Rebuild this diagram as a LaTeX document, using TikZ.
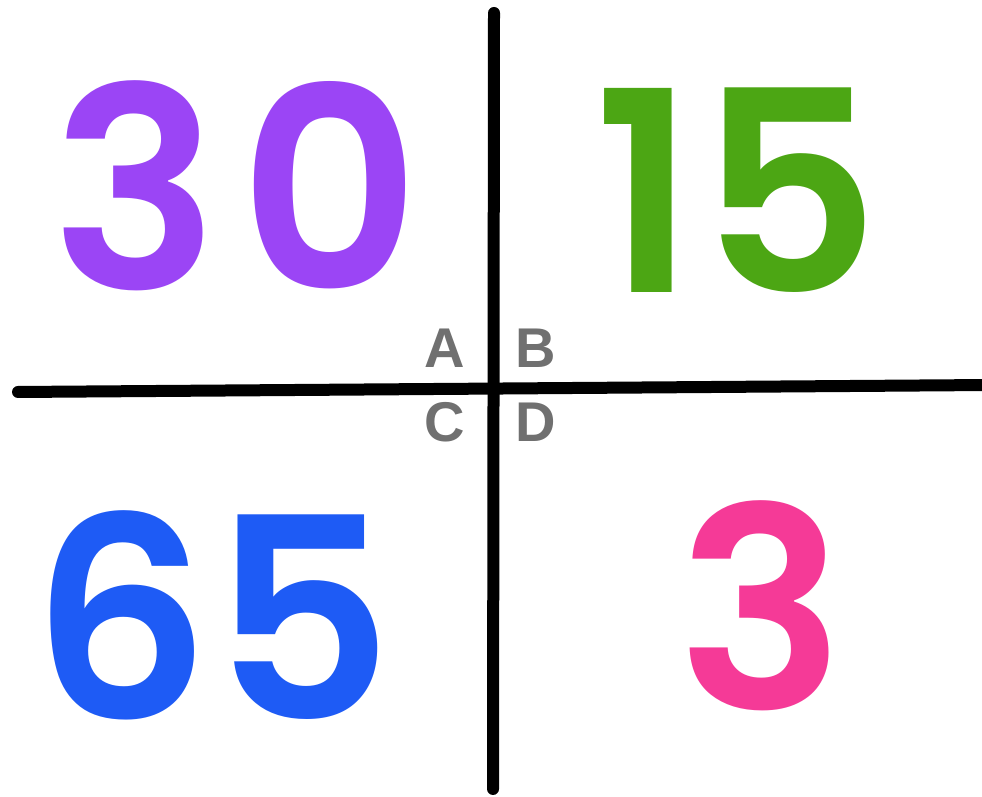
\documentclass[tikz,border=0pt]{standalone}
\usepackage{fontspec}
\newfontfamily\digitfont{Poppins SemiBold}
\newfontfamily\letterfont{Liberation Sans}
\definecolor{cpurple}{HTML}{9B45F5}
\definecolor{cgreen}{HTML}{4CA614}
\definecolor{cblue}{HTML}{1E5BF5}
\definecolor{cpink}{HTML}{F53A97}
\definecolor{cgray}{HTML}{707070}
\tikzset{
  bignum/.style={inner sep=0pt, anchor=base, font=\digitfont\fontsize{280}{280}\selectfont},
  quadlabel/.style={inner sep=0pt, anchor=base, text=cgray, font=\letterfont\bfseries\fontsize{56}{56}\selectfont},
  axis/.style={line width=12pt, line cap=round, black}
}
\begin{document}
\begin{tikzpicture}[x=1pt,y=1pt]
\useasboundingbox (0,0) rectangle (982,797);
\fill[white] (0,0) rectangle (982,797);
% axes
\coordinate (hl) at (18,405);
\coordinate (hr) at (990,412);
\coordinate (vt) at (494,784);
\coordinate (vb) at (493,8);
\draw[axis] (hl) -- (hr);
\draw[axis] (vt) -- (vb);
% numbers
\node[bignum, text=cpurple] (n30) at (236,507) {3\kern20pt0};
\node[bignum, text=cgreen] (n15) at (737,504) {1\kern4pt5};
\node[bignum, text=cblue] (n65) at (212,77) {6\kern2pt5};
\node[bignum, text=cpink] (n3) at (761,87) {3};
% labels
\node[quadlabel] (A) at (445,429) {A};
\node[quadlabel] (B) at (536,429) {B};
\node[quadlabel] (C) at (445,355) {C};
\node[quadlabel] (D) at (536,355) {D};
\end{tikzpicture}
\end{document}
